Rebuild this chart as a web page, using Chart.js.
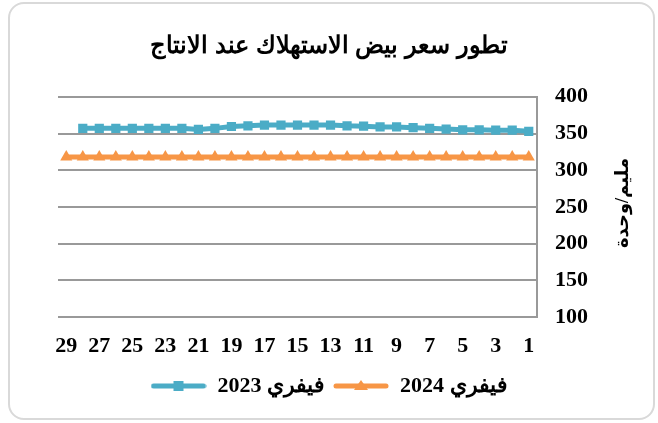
<!DOCTYPE html>
<html>
<head>
<meta charset="utf-8">
<script src="https://cdn.jsdelivr.net/npm/chart.js@4"></script>
<style>
  body { margin: 0; background: #fff; }
  #frame {
    position: absolute; left: 8px; top: 2px; width: 643px; height: 414px;
    border: 2px solid #d9d9d9; border-radius: 16px;
  }
  #wrap { position: absolute; left: 0; top: 0; width: 658px; height: 423px; }
</style>
</head>
<body>
<div id="frame"></div>
<div id="wrap"><canvas id="eggChart"></canvas></div>
<script>
const days = ["1","2","3","4","5","6","7","8","9","10","11","12","13","14","15",
  "16","17","18","19","20","21","22","23","24","25","26","27","28","29"];

const feb2023 = [353, 354.5, 354.5, 355, 355, 356, 357, 358, 359, 359, 360, 360.5,
  361.5, 361.5, 361.5, 361.5, 361.5, 360.5, 359.5, 357, 355.5, 357, 357, 357, 357, 357, 357, 357];

const feb2024 = [318, 318, 318, 318, 318, 318, 318, 318, 318, 318, 318, 318, 318, 318, 318,
  318, 318, 318, 318, 318, 318, 318, 318, 318, 318, 318, 318, 318, 318];

const yTicks = { min: 100, max: 400, step: 50 };

const blue = "#4bacc6";
const orange = "#f79646";
const serif = "'Liberation Serif', 'Times New Roman', serif";

// small legend icons: line with marker in the middle
function legendIcon(color, shape) {
  const c = document.createElement("canvas");
  c.width = 56; c.height = 14;
  const g = c.getContext("2d");
  g.strokeStyle = color; g.lineWidth = 5; g.lineCap = "round";
  g.beginPath(); g.moveTo(3, 7); g.lineTo(53, 7); g.stroke();
  g.fillStyle = color;
  if (shape === "rect") {
    g.fillRect(23, 2, 10, 10);
  } else {
    g.beginPath(); g.moveTo(28, 1); g.lineTo(35, 11); g.lineTo(21, 11); g.closePath(); g.fill();
  }
  return c;
}

const yTitle = {
  id: "yTitle",
  afterDraw(chart) {
    const ctx = chart.ctx;
    ctx.save();
    ctx.translate(623, 203);
    ctx.rotate(-Math.PI / 2);
    ctx.font = "bold 18px 'Liberation Serif', 'DejaVu Sans', serif";
    ctx.fillStyle = "#000";
    ctx.textAlign = "center";
    ctx.textBaseline = "middle";
    ctx.fillText("مليم/وحدة", 0, 0);
    ctx.restore();
  }
};

new Chart(document.getElementById("eggChart"), {
  type: "line",
  data: {
    labels: days,
    datasets: [
      {
        label: "2023 فيفري",
        data: feb2023,
        yAxisID: "y",
        borderColor: blue,
        backgroundColor: blue,
        borderWidth: 5,
        pointStyle: "rect",
        pointRadius: 6.5,
        pointBorderWidth: 0,
        tension: 0,
      },
      {
        label: "2024 فيفري",
        data: feb2024,
        yAxisID: "y",
        borderColor: orange,
        backgroundColor: orange,
        borderWidth: 5,
        pointStyle: "triangle",
        pointRadius: 7,
        pointBorderWidth: 0,
        tension: 0,
      },
    ],
  },
  options: {
    responsive: true,
    maintainAspectRatio: false,
    animation: false,
    layout: { padding: { left: 0, right: 0, top: 0, bottom: 16 } },
    plugins: {
      title: {
        display: true,
        text: "تطور سعر بيض الاستهلاك عند الانتاج",
        color: "#000",
        font: { family: "'Liberation Sans', Arial, sans-serif", size: 24, weight: "bold" },
        padding: { top: 32, bottom: 36 },
      },
      legend: {
        position: "bottom",
        labels: {
          color: "#000",
          font: { family: serif, size: 22, weight: "bold" },
          usePointStyle: true,
          pointStyleWidth: 56,
          padding: 8,
          generateLabels(chart) {
            return chart.data.datasets.map((ds, i) => ({
              text: ds.label,
              fillStyle: ds.borderColor,
              strokeStyle: ds.borderColor,
              pointStyle: legendIcon(ds.borderColor, i === 0 ? "rect" : "triangle"),
              datasetIndex: i,
              hidden: false,
              lineWidth: 0,
              fontColor: "#000",
            }));
          },
        },
      },
      tooltip: { enabled: false },
    },
    scales: {
      x: {
        reverse: true,
        offset: true,
        grid: { display: false, drawTicks: false },
        border: { display: false },
        afterFit(scale) { scale.height = 50; },
        ticks: {
          autoSkip: false,
          maxRotation: 0,
          padding: 16,
          color: "#000",
          font: { family: serif, size: 22, weight: "bold" },
          callback: function (value, index) {
            return index % 2 === 0 ? this.getLabelForValue(value) : "";
          },
        },
      },
      y: {
        position: "right",
        min: yTicks.min,
        max: yTicks.max,
        afterFit(scale) { scale.width = 121; },
        grid: { color: "#999999", lineWidth: 2, drawTicks: false },
        border: { display: true, color: "#999999", width: 2 },
        ticks: {
          stepSize: yTicks.step,
          padding: 18,
          color: "#000",
          font: { family: serif, size: 22, weight: "bold" },
        },
      },
      // empty spacer on the left so the plot starts where the original does
      spacer: {
        type: "linear",
        position: "left",
        min: 0,
        max: 1,
        grid: { display: false, drawTicks: false },
        border: { display: false },
        ticks: { display: false },
        afterFit(scale) { scale.width = 58; },
      },
    },
  },
  plugins: [yTitle],
});
</script>
</body>
</html>
